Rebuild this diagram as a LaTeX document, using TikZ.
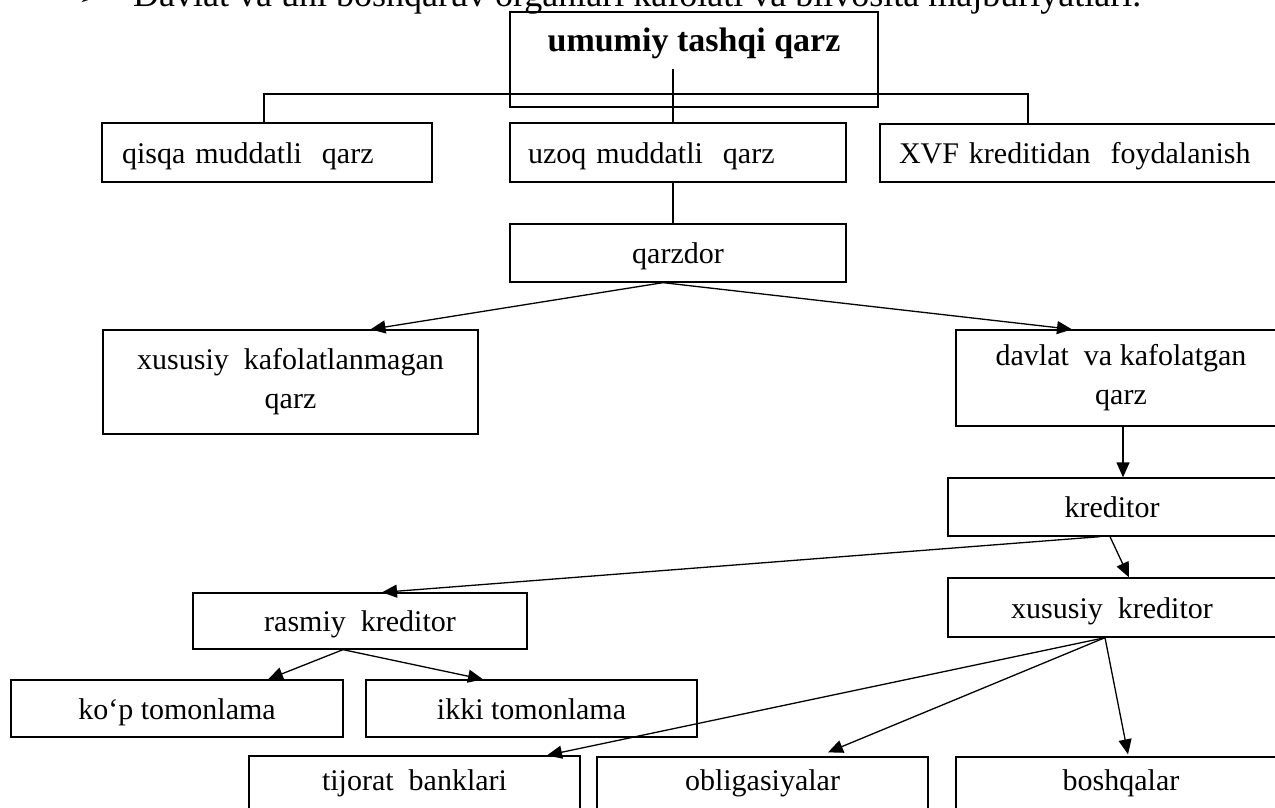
\documentclass[tikz,border=0pt]{standalone}
\usepackage{fontspec}
\setmainfont{Liberation Serif}
\newfontfamily\symfont{DejaVu Sans}
\usetikzlibrary{arrows.meta}
\begin{document}
\begin{tikzpicture}[x=1pt,y=-1pt,
  box/.style={draw, line width=1.3pt, inner sep=0pt, font=\fontsize{30}{39}\selectfont},
  one/.style={box, text height=24pt, text depth=3pt},
  two/.style={box, align=center},
  low/.style={box, text height=24pt, text depth=15pt},
  lefttext/.style={one, align=left},
  conn/.style={line width=1.3pt},
  arr/.style={conn, -{Triangle[length=15pt,width=13pt]}}
]
\useasboundingbox (0,0) rectangle (1275,808);
\clip (0,0) rectangle (1275,808);

% heading line above the chart (its upper part runs off the page)
\node[anchor=base west, inner sep=0pt, font=\symfont\fontsize{28}{30}\selectfont] (bullet) at (78,6) {➢};
\node[anchor=base west, inner sep=0pt, font=\fontsize{36}{40}\selectfont] (cap) at (133,7)
  {Davlat va uni boshqaruv organlari kafolati va bilvosita majburiyatlari.};

% root
\node[box, minimum width=368pt, minimum height=95pt, text height=24pt, text depth=39pt,
      font=\fontsize{34}{40}\selectfont\bfseries] (root) at (694,59.5) {umumiy tashqi qarz};

% first level
\node[lefttext, text width=290pt, inner xsep=20pt, minimum height=59pt] (qisqa) at (267,152.5) {qisqa muddatli\ \ qarz};
\node[lefttext, text width=300pt, inner xsep=18pt, minimum height=59pt] (uzoq) at (678,152.5) {uzoq muddatli\ \ qarz};
\node[lefttext, text width=368pt, inner xsep=19pt, minimum height=58pt] (xvf) at (1083,153) {XVF kreditidan\ \ foydalanish};

% borrower
\node[one, minimum width=336pt, minimum height=58pt] (qarzdor) at (678,253) {qarzdor};
\node[two, minimum width=375pt, minimum height=104pt] (xka) at (290.5,382) {xususiy\ \ kafolatlanmagan\\qarz};
\node[two, minimum width=330pt, minimum height=96pt] (davlat) at (1121,378) {davlat\ \ va kafolatgan\\qarz};

% creditors
\node[one, minimum width=328pt, minimum height=58pt] (kreditor) at (1112,507) {kreditor};
\node[one, minimum width=328pt, minimum height=59pt] (xk) at (1112,607.5) {xususiy\ \ kreditor};
\node[one, minimum width=334pt, minimum height=56pt] (rasmiy) at (360,621) {rasmiy\ \ kreditor};
\node[one, minimum width=332pt, minimum height=57pt] (kop) at (177,708.5) {ko‘p tomonlama};
\node[one, minimum width=331pt, minimum height=57pt] (ikki) at (531.5,708.5) {ikki tomonlama};

% bottom row
\node[low, minimum width=331pt, minimum height=59pt] (tijorat) at (414.5,785.5) {tijorat\ \ banklari};
\node[low, minimum width=331pt, minimum height=58pt] (oblig) at (762.5,786) {obligasiyalar};
\node[low, minimum width=330pt, minimum height=58pt] (boshq) at (1121,786) {boshqalar};

% tree lines below the root
\coordinate (busL) at (264,94);
\coordinate (busR) at (1028,94);
\coordinate (trunk) at (673,69);
\draw[conn] (busL |- qisqa.north) -- (busL) -- (busR) -- (busR |- xvf.north);
\draw[conn] (trunk) -- (trunk |- uzoq.north);
\draw[conn] (trunk |- uzoq.south) -- (trunk |- qarzdor.north);

% arrows
\draw[arr] ([xshift=-15pt]qarzdor.south) -- ([xshift=80pt]xka.north);
\draw[arr] ([xshift=-15pt]qarzdor.south) -- ([xshift=-49pt]davlat.north);
\draw[arr] ([xshift=2pt]davlat.south) -- ([xshift=11pt]kreditor.north);
\draw[arr] ([xshift=-2pt]kreditor.south) -- ([xshift=17pt]xk.north);
\draw[arr] ([xshift=-12pt]kreditor.south) -- ([xshift=22pt]rasmiy.north);
\draw[arr] ([xshift=-17pt]rasmiy.south) -- ([xshift=91pt]kop.north);
\draw[arr] ([xshift=-17pt]rasmiy.south) -- ([xshift=-48.5pt]ikki.north);
\draw[arr] ([xshift=-7pt]xk.south) -- ([xshift=132.5pt]tijorat.north);
\draw[arr] ([xshift=-7pt]xk.south) -- ([xshift=65.5pt,yshift=4pt]oblig.north);
\draw[arr] ([xshift=-7pt]xk.south) -- ([xshift=7pt,yshift=2pt]boshq.north);
\end{tikzpicture}
\end{document}
